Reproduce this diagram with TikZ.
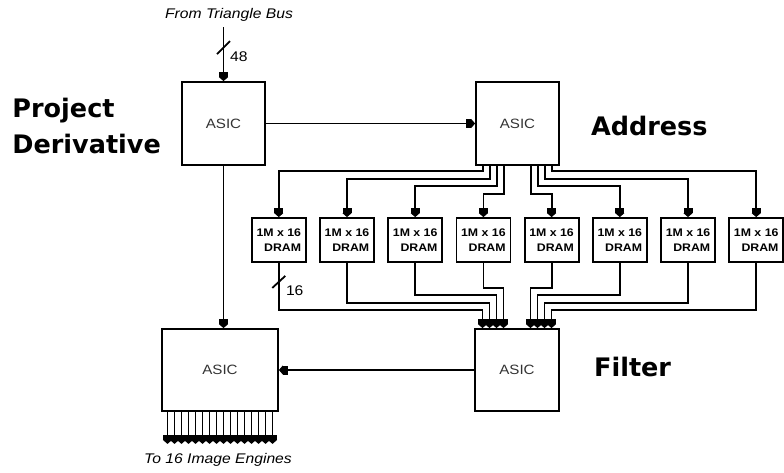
\documentclass[tikz,border=0pt]{standalone}
\usepackage{fontspec}
\usetikzlibrary{arrows.meta,positioning}
\newfontfamily\chipfont{Liberation Sans}[FakeStretch=1.12]
\newfontfamily\tagfont{DejaVu Sans}
\tikzset{
  wire/.style={line width=1.8pt},
  sig/.style={wire, -{Rectangle[length=5pt,width=9pt]Triangle[length=4pt,width=9pt]}},
  asic/.style={draw, line width=1.8pt, inner sep=0pt, text=black!80,
    font=\chipfont\fontsize{13.5}{15}\selectfont},
  dram/.style={draw, line width=1.8pt, inner sep=0pt, minimum width=54pt,
    minimum height=44pt, align=right, font=\chipfont\bfseries\fontsize{11}{15}\selectfont},
  tag/.style={inner sep=0pt, font=\tagfont\bfseries\fontsize{25.5}{36}\selectfont},
  note/.style={inner sep=0pt, font=\chipfont\itshape\fontsize{14}{16}\selectfont},
  width/.style={inner sep=0pt, font=\chipfont\fontsize{14}{16}\selectfont}
}
\begin{document}
\begin{tikzpicture}[x=1pt, y=-1pt]
\useasboundingbox (0,0) rectangle (784,472);
% Chips
\node[asic, minimum width=83pt, minimum height=83pt] (pd) at (223.5,123.5) {ASIC};
\node[asic, minimum width=83pt, minimum height=83pt] (addr) at (517.5,123.5) {ASIC};
\node[asic, minimum width=116pt, minimum height=82pt] (bot) at (220,370) {ASIC};
\node[asic, minimum width=84pt, minimum height=82pt] (filt) at (517,370) {ASIC};
% Memory row
\foreach \i in {1,...,8}
  \node[dram] (d\i) at ({517.5+(\i-4.5)*68.2}, 240) {1M x 16\\DRAM};
% Stage names
\node[tag, align=left, left=20pt of pd, yshift=-2pt] (lblpd) {Project\\Derivative};
\node[tag, right=31pt of addr, yshift=-2pt] (lbladdr) {Address};
\node[tag, right=34pt of filt, yshift=3pt] (lblfilt) {Filter};
% Input bus
\node[note] (busname) at (229,15) {From Triangle Bus};
\coordinate (busin) at (223.5,27);
\draw[sig] (busin) -- (pd.north);
\draw[wire] ([shift={(-6.5,-27)}]pd.north) -- ++(13,-13);
\node[width, anchor=west] (w48) at (230,57) {48};
% Chip to chip
\draw[sig] (pd.east) -- (addr.west);
\draw[sig] (pd.south) -- (pd.south |- bot.north);
\draw[sig] (filt.west) -- (bot.east);
% Address fan-out and filter fan-in
\foreach \i/\off/\down/\up in {1/-34.5/5/47, 2/-27.5/13/40, 3/-20.5/20/32, 4/-13.5/28/25,
                               5/13.5/28/25, 6/20.5/20/32, 7/27.5/13/40, 8/34.5/5/47} {
  \draw[sig] ([xshift=\off pt]addr.south) -- ++(0,\down) -| (d\i.north);
  \draw[sig] (d\i.south) -- ++(0,\up) -| ([xshift=\off pt]filt.north);
}
\draw[wire] ([shift={(-6.5,25)}]d1.south) -- ++(13,-12);
\node[width, anchor=west] (w16) at ([shift={(7,28)}]d1.south) {16};
% Outputs
\foreach \k in {0,...,15}
  \draw[sig] ([xshift={-52.5pt+7pt*\k}]bot.south) -- ++(0,32);
\node[note] (outname) at (218,460) {To 16 Image Engines};
\end{tikzpicture}
\end{document}
